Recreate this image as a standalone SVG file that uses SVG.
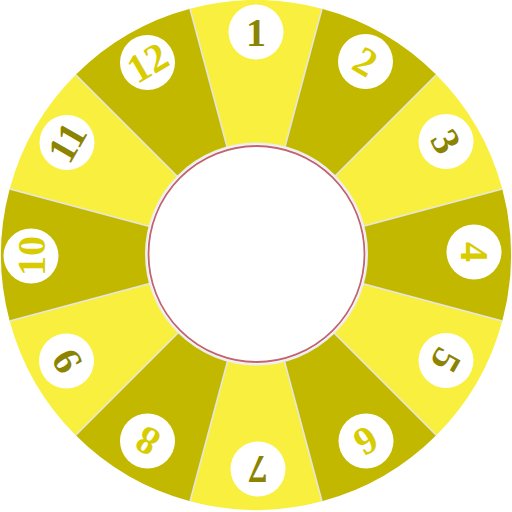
<svg xmlns="http://www.w3.org/2000/svg" width="512" height="512" viewBox="0 0 512 512">
<style>
.y{fill:#f9ef3f}
.o{fill:#c2b800}
.sep{stroke:#e6e6e6;stroke-width:1.5}
.badge{fill:#ffffff}
.num{font-family:"Liberation Serif","DejaVu Serif",serif;font-weight:bold;font-size:40px;text-anchor:middle;dominant-baseline:central}
.ny{fill:#8c8400}
.no{fill:#d8cc00}
</style>
<rect width="512" height="512" fill="#ffffff"/>
<g id="segments">
<path id="seg1" class="y" d="M256,255 L190.0,8.7 A255,255 0 0 1 322.0,8.7 Z"/>
<path id="seg2" class="o" d="M256,255 L322.0,8.7 A255,255 0 0 1 436.3,74.7 Z"/>
<path id="seg3" class="y" d="M256,255 L436.3,74.7 A255,255 0 0 1 502.3,189.0 Z"/>
<path id="seg4" class="o" d="M256,255 L502.3,189.0 A255,255 0 0 1 502.3,321.0 Z"/>
<path id="seg5" class="y" d="M256,255 L502.3,321.0 A255,255 0 0 1 436.3,435.3 Z"/>
<path id="seg6" class="o" d="M256,255 L436.3,435.3 A255,255 0 0 1 322.0,501.3 Z"/>
<path id="seg7" class="y" d="M256,255 L322.0,501.3 A255,255 0 0 1 190.0,501.3 Z"/>
<path id="seg8" class="o" d="M256,255 L190.0,501.3 A255,255 0 0 1 75.7,435.3 Z"/>
<path id="seg9" class="y" d="M256,255 L75.7,435.3 A255,255 0 0 1 9.7,321.0 Z"/>
<path id="seg10" class="o" d="M256,255 L9.7,321.0 A255,255 0 0 1 9.7,189.0 Z"/>
<path id="seg11" class="y" d="M256,255 L9.7,189.0 A255,255 0 0 1 75.7,74.7 Z"/>
<path id="seg12" class="o" d="M256,255 L75.7,74.7 A255,255 0 0 1 190.0,8.7 Z"/>
</g>
<g id="separators" class="sep">
<line x1="256" y1="255" x2="190.0" y2="8.7"/>
<line x1="256" y1="255" x2="322.0" y2="8.7"/>
<line x1="256" y1="255" x2="436.3" y2="74.7"/>
<line x1="256" y1="255" x2="502.3" y2="189.0"/>
<line x1="256" y1="255" x2="502.3" y2="321.0"/>
<line x1="256" y1="255" x2="436.3" y2="435.3"/>
<line x1="256" y1="255" x2="322.0" y2="501.3"/>
<line x1="256" y1="255" x2="190.0" y2="501.3"/>
<line x1="256" y1="255" x2="75.7" y2="435.3"/>
<line x1="256" y1="255" x2="9.7" y2="321.0"/>
<line x1="256" y1="255" x2="9.7" y2="189.0"/>
<line x1="256" y1="255" x2="75.7" y2="74.7"/>
</g>
<g id="hub">
<circle cx="256.5" cy="254" r="110.5" fill="#ffffff" stroke="#eeeeee" stroke-width="2"/>
<circle cx="256.5" cy="254" r="108" fill="none" stroke="#c06472" stroke-width="1.8"/>
</g>
<g id="n1"><circle class="badge" cx="256" cy="32" r="27.5"/><text class="num ny" x="256" y="32" transform="rotate(0 256 32)">1</text></g>
<g id="n2"><circle class="badge" cx="365.5" cy="61.5" r="27.5"/><text class="num no" x="365.5" y="61.5" transform="rotate(30 365.5 61.5)">2</text></g>
<g id="n3"><circle class="badge" cx="446" cy="141.5" r="27.5"/><text class="num ny" x="446" y="141.5" transform="rotate(60 446 141.5)">3</text></g>
<g id="n4"><circle class="badge" cx="474" cy="252" r="27.5"/><text class="num no" x="474" y="252" transform="rotate(90 474 252)">4</text></g>
<g id="n5"><circle class="badge" cx="446" cy="360.5" r="27.5"/><text class="num ny" x="446" y="360.5" transform="rotate(120 446 360.5)">5</text></g>
<g id="n6"><circle class="badge" cx="366" cy="441" r="27.5"/><text class="num no" x="366" y="441" transform="rotate(150 366 441)">6</text></g>
<g id="n7"><circle class="badge" cx="258" cy="469" r="27.5"/><text class="num ny" x="258" y="469" transform="rotate(180 258 469)">7</text></g>
<g id="n8"><circle class="badge" cx="147.5" cy="441" r="27.5"/><text class="num no" x="147.5" y="441" transform="rotate(210 147.5 441)">8</text></g>
<g id="n9"><circle class="badge" cx="66.5" cy="361" r="27.5"/><text class="num ny" x="66.5" y="361" transform="rotate(240 66.5 361)">9</text></g>
<g id="n10"><circle class="badge" cx="31" cy="256" r="27.5"/><text class="num no" x="31" y="256" transform="rotate(270 31 256)">10</text></g>
<g id="n11"><circle class="badge" cx="67" cy="142.5" r="27.5"/><text class="num ny" x="67" y="142.5" transform="rotate(300 67 142.5)">11</text></g>
<g id="n12"><circle class="badge" cx="147.5" cy="62.5" r="27.5"/><text class="num no" x="147.5" y="62.5" transform="rotate(330 147.5 62.5)">12</text></g>
</svg>
